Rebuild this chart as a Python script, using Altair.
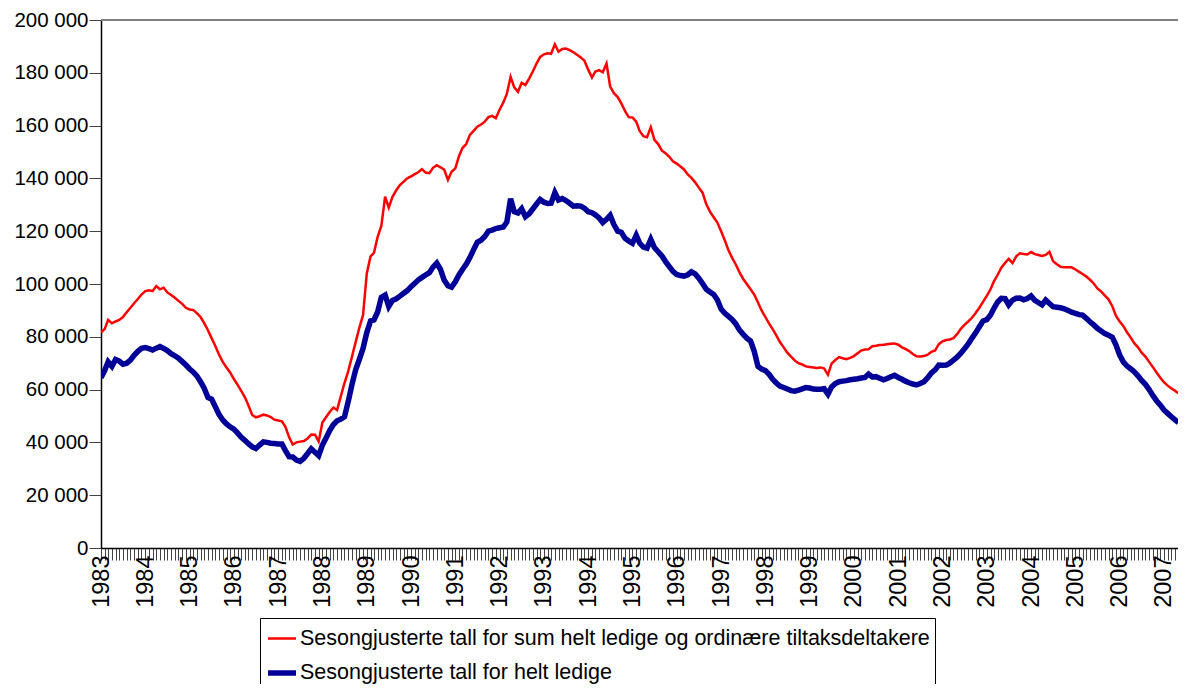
import altair as alt
import pandas as pd

# Series names (legend)
series_names = [
    "Sesongjusterte tall for sum helt ledige og ordinære tiltaksdeltakere",
    "Sesongjusterte tall for helt ledige",
]

# Monthly values in thousands, Jan 1983 .. May 2007
red_k = [
    81.6, 83.0, 86.4, 85.1, 85.8, 86.4, 87.5, 89.3, 91.0, 92.7, 94.3, 96.0,
    97.3, 97.6, 97.3, 99.2, 98.0, 98.6, 96.8, 95.8, 94.8, 93.6, 92.5, 91.0,
    90.3, 90.1, 89.0, 87.5, 85.2, 82.5, 79.5, 76.5, 73.2, 70.5, 68.4, 66.5,
    64.0, 61.8, 59.6, 57.2, 54.0, 50.4, 49.5, 49.9, 50.5, 50.2, 49.6, 48.6,
    48.3, 48.0, 46.0, 42.0, 39.2, 40.0, 40.3, 40.5, 41.5, 43.0, 42.9, 40.3,
    47.5, 49.6, 51.5, 53.2, 52.3, 57.5, 62.5, 67.0, 72.5, 78.0, 83.5, 88.2,
    104.0, 110.5, 111.8, 118.0, 122.0, 133.1, 128.9, 133.0, 135.5, 137.5, 138.8, 140.0,
    140.8, 141.6, 142.3, 143.5, 142.2, 142.0, 144.0, 145.0, 144.2, 143.3, 139.4, 142.5,
    143.8, 148.5, 151.5, 153.0, 156.5, 158.0, 159.6, 160.4, 161.5, 163.2, 163.7, 162.8,
    166.0, 168.8, 172.0, 178.5, 174.5, 172.8, 176.2, 175.4, 177.8, 180.5, 183.5, 186.0,
    187.0, 187.4, 187.2, 190.8, 188.0, 189.0, 189.2, 188.6, 187.8, 186.8, 185.8, 184.6,
    181.2, 178.2, 180.5, 181.0, 180.2, 183.5, 174.8, 172.3, 170.8, 168.4, 165.5, 163.2,
    163.1, 161.5, 158.0, 156.0, 155.6, 159.4, 154.6, 153.0, 150.5, 149.5, 148.2, 146.5,
    145.6, 144.5, 143.4, 141.5, 140.2, 138.5, 136.5, 134.6, 130.2, 127.4, 125.3, 123.3,
    120.0, 116.5, 113.0, 110.0, 107.5, 104.5, 102.0, 100.0, 98.0, 96.0, 93.0, 90.0,
    87.5, 85.0, 83.0, 80.5, 78.0, 76.0, 74.0, 72.5, 71.0, 70.0, 69.5, 68.8,
    68.6, 68.4, 68.2, 68.4, 68.0, 65.6, 69.8, 71.2, 72.3, 71.9, 71.5, 72.0,
    72.7, 73.8, 74.8, 75.2, 75.3, 76.4, 76.6, 76.9, 77.0, 77.2, 77.4, 77.5,
    77.0, 76.0, 75.4, 74.6, 73.5, 72.6, 72.5, 72.7, 73.2, 74.3, 74.8, 77.2,
    78.3, 78.8, 79.0, 79.5, 81.0, 83.0, 84.5, 85.8, 87.2, 89.0, 91.0, 93.2,
    95.5, 98.0, 101.0, 103.5, 106.2, 108.0, 109.5, 107.9, 110.5, 111.6, 111.4, 111.2,
    112.1, 111.3, 111.0, 110.6, 111.0, 112.2, 108.6, 107.5, 106.5, 106.3, 106.3, 106.3,
    105.5, 104.6, 103.8, 102.8, 101.6, 100.2, 98.3, 97.2, 95.6, 94.2, 91.6, 88.0,
    85.8, 84.0, 81.8, 79.8, 77.6, 76.0, 74.0, 72.5, 70.5, 68.6, 66.5, 64.6,
    62.8, 61.5, 60.5, 59.6, 58.6,
]

blue_k = [
    64.5, 67.3, 70.5, 68.8, 71.4, 70.8, 69.6, 70.0, 71.2, 73.0, 74.5, 75.6,
    75.9, 75.5, 75.0, 75.7, 76.3, 75.6, 74.8, 73.6, 72.8, 71.9, 70.6, 69.3,
    67.8, 66.6, 65.2, 63.0, 60.5, 57.0, 56.4, 53.5, 50.5, 48.5, 47.0, 45.9,
    45.0, 43.5, 42.0, 40.8, 39.5, 38.3, 37.7, 39.0, 40.2, 40.0, 39.7, 39.6,
    39.4, 39.4, 37.0, 34.6, 34.5, 33.3, 32.8, 34.0, 35.8, 37.6, 36.3, 35.0,
    39.0, 41.8, 44.5, 46.8, 48.2, 48.8, 49.7, 55.5, 62.0, 67.5, 71.5, 75.6,
    81.6, 86.0, 86.4, 89.5, 95.0, 95.8, 91.5, 93.8, 94.4, 95.4, 96.5, 97.5,
    99.0, 100.3, 101.5, 102.5, 103.4, 104.3, 106.4, 107.9, 105.5, 101.5, 99.3, 98.8,
    100.8, 103.5, 105.5, 107.5, 110.0, 113.0, 115.8, 116.6, 118.0, 120.0, 120.4, 121.0,
    121.3, 121.6, 123.5, 132.3, 127.4, 126.9, 128.5, 125.5, 126.6, 128.4, 130.3, 132.0,
    131.0, 130.5, 130.6, 134.6, 131.8, 132.4, 131.6, 130.6, 129.5, 129.6, 129.5, 128.7,
    127.4, 127.0, 126.2, 125.0, 123.3, 124.5, 126.0, 122.5, 120.0, 119.6, 117.3, 116.3,
    115.4, 118.5, 115.5, 114.0, 113.6, 116.9, 113.8, 112.2, 110.6, 108.5, 106.6, 104.8,
    103.6, 103.2, 103.0, 103.5, 104.6, 103.8, 102.2, 100.2, 98.0, 97.0, 96.0, 94.0,
    90.5, 88.9, 87.8, 86.6, 85.0, 82.6, 81.0, 79.5, 78.4, 74.5, 68.8, 67.8,
    67.2, 65.8, 64.0, 62.5, 61.3, 60.8, 60.2, 59.6, 59.4, 59.8, 60.3, 60.8,
    60.6, 60.2, 60.1, 60.1, 60.3, 58.3, 61.0, 62.3, 63.0, 63.2, 63.4, 63.7,
    63.9, 64.1, 64.4, 64.6, 65.9, 64.8, 64.9, 64.3, 63.7, 64.2, 64.9, 65.4,
    64.6, 63.9, 63.2, 62.6, 62.1, 61.8, 62.3, 63.0, 64.5, 66.3, 67.5, 69.3,
    69.2, 69.3, 70.0, 71.2, 72.3, 73.8, 75.5, 77.3, 79.5, 81.5, 83.8, 86.0,
    86.5, 88.3, 90.8, 93.2, 94.6, 94.5, 92.1, 93.9, 94.6, 94.7, 94.0, 94.5,
    95.5, 93.8, 93.0, 92.1, 93.9, 92.6, 91.4, 91.2, 91.0, 90.6, 90.0, 89.3,
    88.9, 88.4, 88.2, 87.0, 85.7, 84.5, 83.2, 82.2, 81.2, 80.6, 79.8, 77.0,
    73.1, 70.4, 69.0, 67.9, 66.8, 65.2, 63.5, 62.0, 60.0, 57.8, 55.8, 54.2,
    52.3, 51.0, 49.8, 48.6, 47.5,
]

y_ticks = [0, 20000, 40000, 60000, 80000, 100000, 120000, 140000, 160000, 180000, 200000]
colors = ["#FF0000", "#000099"]
widths = [2.5, 5.5]

months = pd.date_range("1983-01-01", periods=len(red_k), freq="MS")
month_str = [d.strftime("%Y-%m-%dT00:00:00") for d in months]

df = pd.concat([
    pd.DataFrame({"dato": month_str, "verdi": [v * 1000 for v in red_k], "serie": series_names[0]}),
    pd.DataFrame({"dato": month_str, "verdi": [v * 1000 for v in blue_k], "serie": series_names[1]}),
])

FONT = "Liberation Sans"
W, H = 1077, 528

legend = alt.Legend(
    title=None, orient="none", legendX=159, legendY=598, direction="vertical",
    symbolType="stroke", symbolSize=784, labelFontSize=21.5, labelFont=FONT,
    labelColor="#000", labelLimit=1000, strokeColor="#000", padding=5,
    rowPadding=7, labelOffset=1, fillColor="#fff",
)

lines = alt.Chart(df).mark_line(strokeCap="butt", strokeJoin="miter", clip=True).encode(
    x=alt.X("dato:T", title=None,
            scale=alt.Scale(domain=[alt.DateTime(year=1983, month=1, date=1),
                                    alt.DateTime(year=2007, month=4, date=27)], nice=False),
            axis=alt.Axis(tickCount={"interval": "month", "step": 1},
                          labelExpr="month(datum.value) == 0 ? timeFormat(datum.value, '%Y') : ''",
                          labelAngle=270, labelFontSize=23.5, labelFont=FONT, labelColor="#000",
                          labelPadding=-5, tickSize=12, tickColor="#444", tickWidth=1,
                          domainColor="#000", domainWidth=1.5, labelOverlap=False,
                          labelFlush=False, grid=False, labelBound=False)),
    y=alt.Y("verdi:Q", title=None,
            scale=alt.Scale(domain=[0, 200000], nice=False),
            axis=alt.Axis(values=y_ticks, labelExpr="replace(format(datum.value, ','), ',', ' ')",
                          labelFontSize=20.5, labelFont=FONT, labelColor="#000", labelPadding=1,
                          tickSize=12, tickColor="#444", domainColor="#000", domainWidth=1.5,
                          grid=False)),
    color=alt.Color("serie:N", scale=alt.Scale(domain=series_names, range=colors), legend=legend),
    strokeWidth=alt.StrokeWidth("serie:N", scale=alt.Scale(domain=series_names, range=widths),
                                legend=legend),
    order=alt.Order("dato:T"),
)

top_rule = alt.Chart(df).mark_rule(color="#808080", strokeWidth=1.5).encode(
    y=alt.value(0), x=alt.value(0), x2=alt.value(W)
)

chart = alt.layer(top_rule, lines).properties(
    width=W, height=H,
    autosize=alt.AutoSizeParams(type="none"),
    padding={"left": 93, "top": 12, "right": 0, "bottom": 136},
).configure_view(stroke=None)

chart.save("out.html", embed_options={"renderer": "svg", "actions": False})
